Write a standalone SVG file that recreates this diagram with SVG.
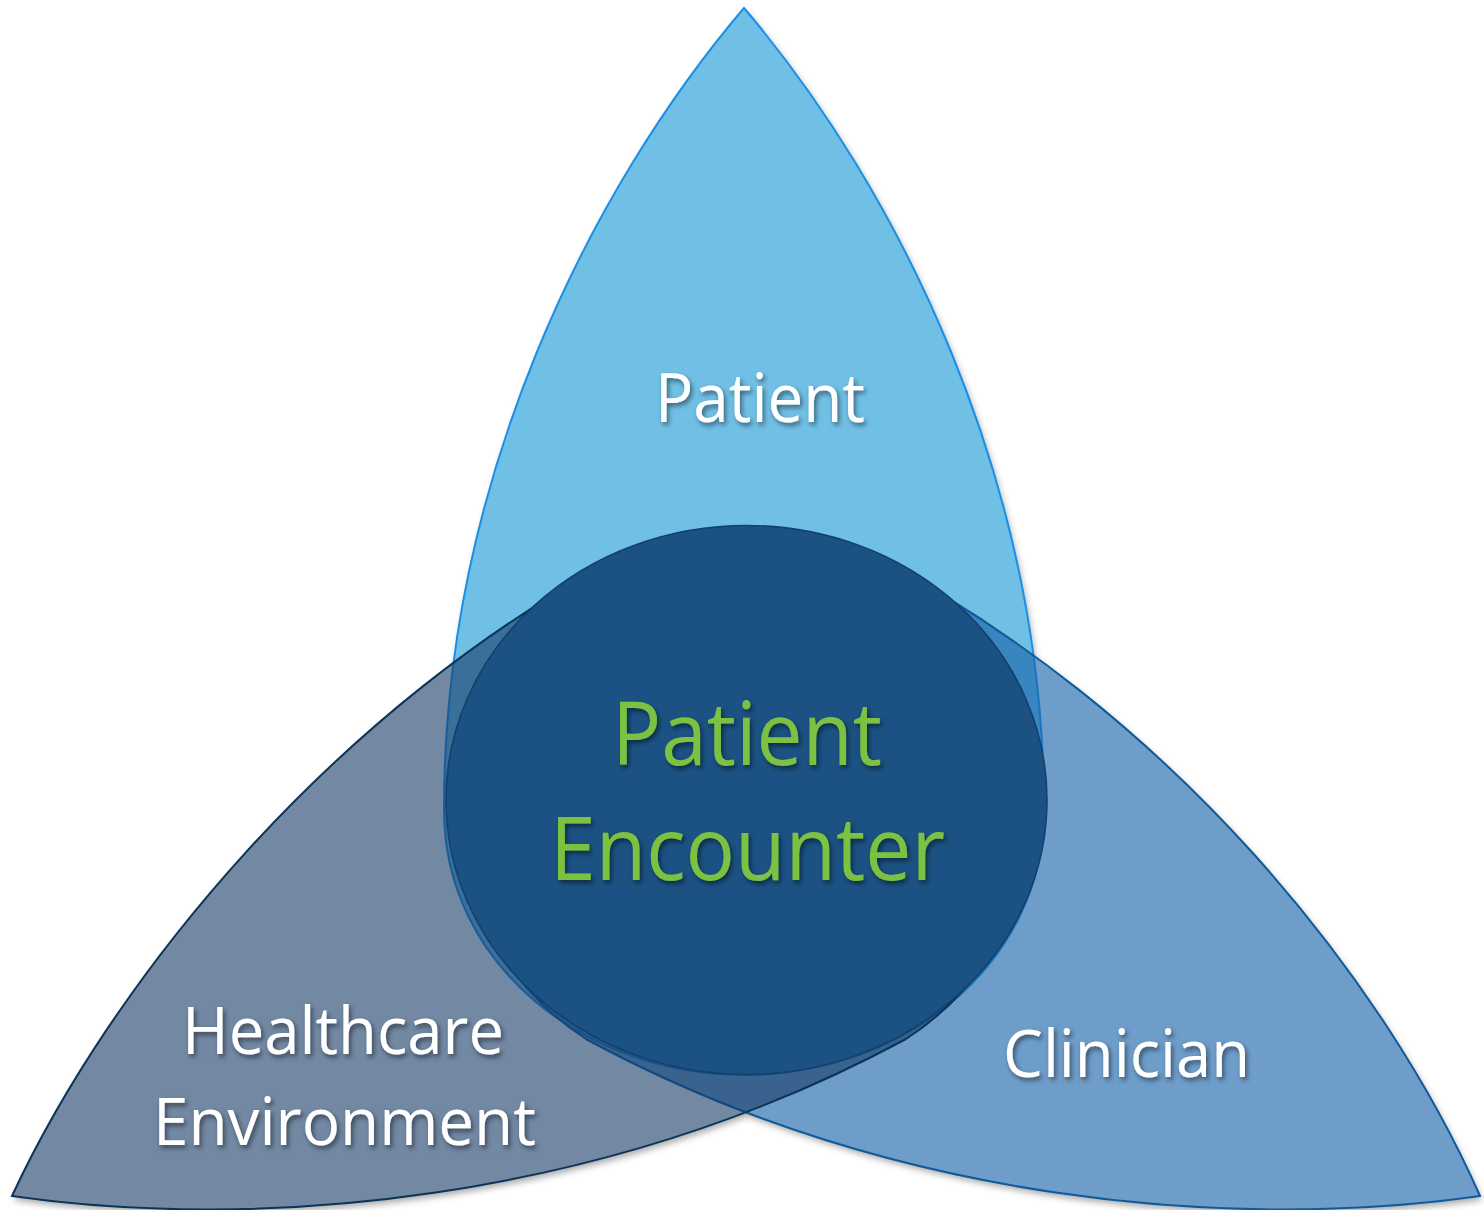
<svg xmlns="http://www.w3.org/2000/svg" xmlns:xlink="http://www.w3.org/1999/xlink" width="1484" height="1210" viewBox="0 0 1484 1210">
<defs>
<style>
.lbl{font-family:"Open Sans","Noto Sans","DejaVu Sans",sans-serif;fill:#ffffff;text-anchor:middle;filter:url(#ts)}
.side{font-size:66px}
.ctr{fill:#7CC243;font-size:87px}
.top{fill:#70BFE5;stroke:#1A8FE8;stroke-width:2}
.right{fill:#1A63A9;fill-opacity:0.63;stroke:#0F5A9A;stroke-width:2}
.left{fill:#193D68;fill-opacity:0.61;stroke:#0C3457;stroke-width:2}
.circ{fill:#1B5283;stroke:#12416D;stroke-width:1.6}
</style>
<filter id="ds" x="-5%" y="-5%" width="110%" height="110%">
<feGaussianBlur in="SourceAlpha" stdDeviation="3.5"/>
<feOffset dx="2" dy="4" result="b"/>
<feComponentTransfer><feFuncA type="linear" slope="0.35"/></feComponentTransfer>
<feMerge><feMergeNode/><feMergeNode in="SourceGraphic"/></feMerge>
</filter>
<filter id="ts" x="-10%" y="-20%" width="120%" height="140%">
<feGaussianBlur in="SourceAlpha" stdDeviation="2.5"/>
<feOffset dx="2" dy="3"/>
<feComponentTransfer><feFuncA type="linear" slope="0.5"/></feComponentTransfer>
<feMerge><feMergeNode/><feMergeNode in="SourceGraphic"/></feMerge>
</filter>
<path id="shTop" d="M744,8 C591,188 444,480 444,810 C444,965 585,1075 744,1075 C903,1075 1044,965 1044,810 C1044,480 897,188 744,8 Z"/>
<path id="shLeft" d="M12,1196 C110,985 332,704 636,548 C734,498 914,544 991,668 C1068,792 1033,957 906,1039 C600,1204 256,1231 12,1196 Z"/>
<path id="shRight" d="M1480,1196 C1386,983 1175,712 868,553 C770,502 578,544 501,668 C424,792 459,957 586,1039 C891,1204 1235,1231 1480,1196 Z"/>
</defs>
<rect width="1484" height="1210" fill="#ffffff"/>
<g id="shadows" filter="url(#ds)" fill="#ffffff">
<use xlink:href="#shTop"/>
<use xlink:href="#shLeft"/>
<use xlink:href="#shRight"/>
</g>
<g id="node-patient">
<use xlink:href="#shTop" class="top"/>
<text class="lbl side" x="760" y="422" style="font-size:68px" textLength="210" lengthAdjust="spacingAndGlyphs">Patient</text>
</g>
<g id="node-clinician">
<use xlink:href="#shRight" class="right"/>
<text class="lbl side" x="1126.5" y="1077" textLength="247" lengthAdjust="spacingAndGlyphs">Clinician</text>
</g>
<g id="node-healthcare-environment">
<use xlink:href="#shLeft" class="left"/>
<text class="lbl side" x="343" y="1054" textLength="322" lengthAdjust="spacingAndGlyphs">Healthcare</text>
<text class="lbl side" x="344.5" y="1145" textLength="383" lengthAdjust="spacingAndGlyphs">Environment</text>
</g>
<g id="node-patient-encounter">
<ellipse class="circ" cx="746.5" cy="800" rx="300.5" ry="274.5"/>
<text class="lbl ctr" x="747" y="765" textLength="270" lengthAdjust="spacingAndGlyphs">Patient</text>
<text class="lbl ctr" x="747.5" y="880" textLength="395" lengthAdjust="spacingAndGlyphs">Encounter</text>
</g>
</svg>
